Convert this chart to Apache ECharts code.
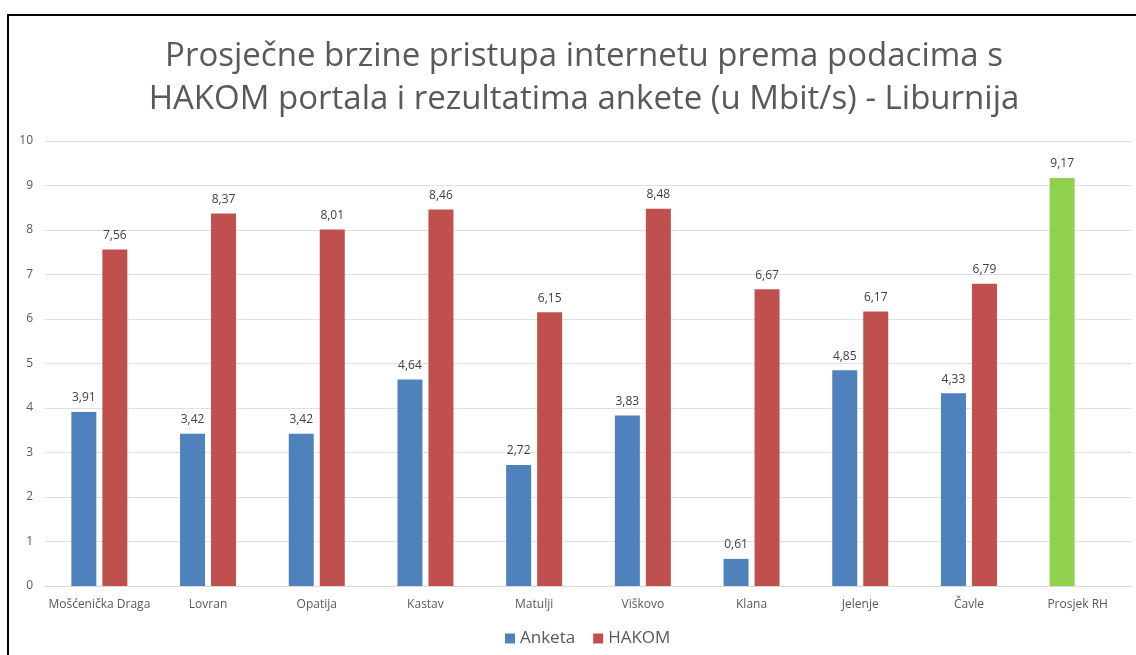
<!DOCTYPE html>
<html>
<head>
<meta charset="utf-8">
<script src="https://cdn.jsdelivr.net/npm/echarts@6/dist/echarts.min.js"></script>
<style>
html,body{margin:0;padding:0;background:#fff;}
#frame{position:absolute;left:7px;top:14px;width:1140px;height:700px;border-left:2px solid #000;border-top:2px solid #000;pointer-events:none;}
#chart{position:absolute;left:0;top:0;width:1136px;height:655px;}
</style>
</head>
<body>
<div id="chart"></div>
<div id="frame"></div>
<script>
const categories = ['Mošćenička Draga','Lovran','Opatija','Kastav','Matulji','Viškovo','Klana','Jelenje','Čavle','Prosjek RH'];
const anketa = [3.91, 3.42, 3.42, 4.64, 2.72, 3.83, 0.61, 4.85, 4.33, 9.17];
const hakom = [7.56, 8.37, 8.01, 8.46, 6.15, 8.48, 6.67, 6.17, 6.79, null];
const yTicks = [0,1,2,3,4,5,6,7,8,9,10];
const titleLines = ['Prosječne brzine pristupa internetu prema podacima s', 'HAKOM portala i rezultatima ankete (u Mbit/s) - Liburnija'];

const FONT = '"Open Sans", "Noto Sans", sans-serif';
const fmt = p => p.value == null ? '' : p.value.toFixed(2).replace('.', ',');

const chart = echarts.init(document.getElementById('chart'), null, {renderer:'canvas'});
chart.setOption({
  animation: false,
  title: {
    text: titleLines.join('\n'),
    left: 579, textAlign: 'center', top: 30,
    textStyle: {fontFamily: FONT, fontSize: 33, fontWeight: 'normal', color: '#595959', lineHeight: 43}
  },
  legend: {
    bottom: 3, left: 500,
    itemWidth: 10, itemHeight: 10, itemGap: 18,
    icon: 'rect',
    textStyle: {fontFamily: FONT, fontSize: 17, color: '#595959'},
    data: [{name:'Anketa', itemStyle:{color:'#4F81BD'}}, {name:'HAKOM', itemStyle:{color:'#C0504D'}}]
  },
  grid: {left: 45, right: 4, top: 141, bottom: 69, containLabel: false},
  xAxis: {
    type: 'category', data: categories,
    axisLine: {lineStyle: {color: '#d9d9d9'}},
    axisTick: {show: false},
    axisLabel: {fontFamily: FONT, fontSize: 12, color: '#595959', margin: 13, interval: 0}
  },
  yAxis: {
    type: 'value', min: yTicks[0], max: yTicks[yTicks.length-1], interval: 1,
    axisLine: {show: false}, axisTick: {show: false},
    splitLine: {lineStyle: {color: '#e0e0e0'}},
    axisLabel: {fontFamily: FONT, fontSize: 12, color: '#595959', margin: 12}
  },
  series: [
    {
      name: 'Anketa', type: 'bar', barWidth: 25, barGap: '24%',
      itemStyle: {color: '#4F81BD'},
      data: anketa.map((v,i) => i === anketa.length-1 ? {value: v, itemStyle: {color: '#92D050'}} : v),
      label: {show: true, position: 'top', distance: 8, formatter: fmt, fontFamily: FONT, fontSize: 12, color: '#404040'}
    },
    {
      name: 'HAKOM', type: 'bar', barWidth: 25,
      itemStyle: {color: '#C0504D'},
      data: hakom,
      label: {show: true, position: 'top', distance: 8, formatter: fmt, fontFamily: FONT, fontSize: 12, color: '#404040'}
    }
  ]
});
</script>
</body>
</html>
